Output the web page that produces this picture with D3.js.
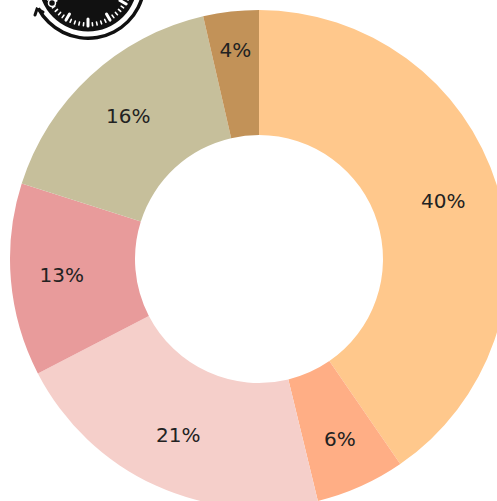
<!DOCTYPE html>
<html>
<head>
<meta charset="utf-8">
<script src="https://cdn.jsdelivr.net/npm/d3@7"></script>
<style>
  html, body { margin: 0; padding: 0; background: #fff; }
  svg { display: block; }
</style>
</head>
<body>
<div id="chart"></div>
<script>
let labels = ['40%', '6%', '21%', '13%', '16%', '4%'];
let values = [40.4, 5.8, 21.2, 12.5, 16.5, 3.6];
let colors = ['#ffc88c', '#ffae85', '#f5cfca', '#e89b9b', '#c6bf9b', '#c29258'];

let width = 497;
let height = 501;
let cx = 259;
let cy = 259;
let outer = 249;
let inner = 124;

// how far out each label sits, by slice
let labelRadius = [193, 198, 195, 198, 193, 209];

const svg = d3.select('#chart').append('svg')
  .attr('width', width)
  .attr('height', height);

// logo, cut off by the top edge
let logo = svg.append('g').attr('transform', 'translate(88, -18)');

logo.append('circle')
  .attr('r', 49.5)
  .attr('fill', '#111');

let tickAngles = d3.range(0, 60);
logo.selectAll('line.tick')
  .data(tickAngles)
  .join('line')
  .attr('class', 'tick')
  .attr('stroke', '#fff')
  .attr('stroke-linecap', 'round')
  .attr('stroke-width', d => d % 5 == 0 ? 3 : 1.6)
  .attr('x1', d => 44 * Math.sin(d * Math.PI / 30))
  .attr('y1', d => 44 * Math.cos(d * Math.PI / 30))
  .attr('x2', d => (d % 5 == 0 ? 37 : 41) * Math.sin(d * Math.PI / 30))
  .attr('y2', d => (d % 5 == 0 ? 37 : 41) * Math.cos(d * Math.PI / 30));

// the little ring mark on the dial
logo.append('circle')
  .attr('cx', -36)
  .attr('cy', 21)
  .attr('r', 3.5)
  .attr('fill', '#111')
  .attr('stroke', '#fff')
  .attr('stroke-width', 1.5);

// ring around the clock, ends in an open arrow head on the left
logo.append('path')
  .attr('d', d3.arc().innerRadius(54.5).outerRadius(58).startAngle(Math.PI * 0.55).endAngle(Math.PI * 1.345))
  .attr('fill', '#111');

logo.append('path')
  .attr('d', d3.line()([[-53, 33], [-51, 27], [-45, 30]]))
  .attr('fill', 'none')
  .attr('stroke', '#111')
  .attr('stroke-width', 3)
  .attr('stroke-linecap', 'round')
  .attr('stroke-linejoin', 'miter');

// donut
let pie = d3.pie().sort(null).value(d => d);
let arc = d3.arc().innerRadius(inner).outerRadius(outer);

let g = svg.append('g').attr('transform', `translate(${cx}, ${cy})`);
let arcs = pie(values);

g.selectAll('path')
  .data(arcs)
  .join('path')
  .attr('fill', (d, i) => colors[i])
  .attr('d', arc);

let labelPos = (d, i) => d3.arc().innerRadius(labelRadius[i]).outerRadius(labelRadius[i]).centroid(d);

g.selectAll('text')
  .data(arcs)
  .join('text')
  .attr('x', (d, i) => labelPos(d, i)[0])
  .attr('y', (d, i) => labelPos(d, i)[1])
  .attr('dy', '0.3em')
  .attr('text-anchor', 'middle')
  .attr('font-family', 'Verdana, "DejaVu Sans", sans-serif')
  .attr('font-size', 20)
  .attr('fill', '#222')
  .text((d, i) => labels[i]);
</script>
</body>
</html>
